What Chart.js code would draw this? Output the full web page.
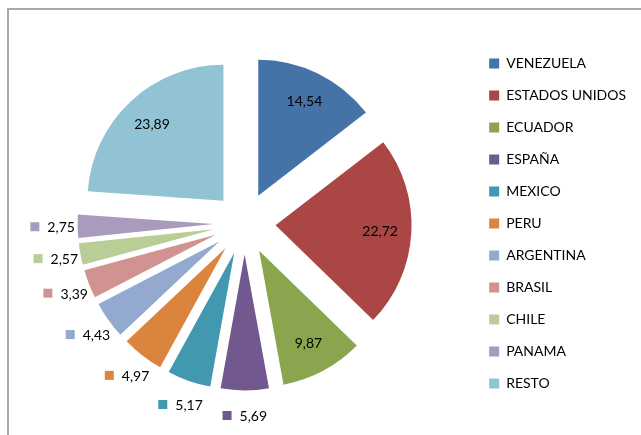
<!DOCTYPE html>
<html>
<head>
<meta charset="utf-8">
<script src="https://cdn.jsdelivr.net/npm/chart.js@4"></script>
<style>
  html, body { margin: 0; padding: 0; background: #fff; overflow: hidden; }
  #wrap { position: relative; width: 641px; height: 435px; }
  #frame { position: absolute; left: 7px; top: 8px; width: 700px; height: 500px;
           border-left: 2px solid #a8a8a8; border-top: 2px solid #a8a8a8; }
  canvas { position: absolute; left: 0; top: 0; }
</style>
</head>
<body>
<div id="wrap">
  <div id="frame"></div>
  <canvas id="myChart" width="641" height="435"></canvas>
</div>
<script>
const countries = ["VENEZUELA", "ESTADOS UNIDOS", "ECUADOR", "ESPAÑA", "MEXICO", "PERU",
                   "ARGENTINA", "BRASIL", "CHILE", "PANAMA", "RESTO"];
const shares = [14.54, 22.72, 9.87, 5.69, 5.17, 4.97, 4.43, 3.39, 2.57, 2.75, 23.89];
const sliceColors = ["#4572a7", "#aa4643", "#89a54e", "#71588f", "#4198af", "#db843d",
                     "#93a9cf", "#d19392", "#b9cd96", "#a99bbd", "#92c3d5"];

const FONT = "Lato, 'Open Sans', sans-serif";
const EXPLODE = 31; // px every slice is pulled out, like excel's "explosion"

// chart.js' own offset also shrinks/thins the wedges, so just shift each arc
const explode = {
    id: "explode",
    beforeDatasetDraw(chart, args) {
        const ctx = chart.ctx;
        args.meta.data.forEach(arc => {
            const mid = (arc.startAngle + arc.endAngle) / 2;
            ctx.save();
            ctx.translate(Math.cos(mid) * EXPLODE, Math.sin(mid) * EXPLODE);
            arc.draw(ctx);
            ctx.restore();
        });
        return false;
    }
};

// value labels: big slices inside, small ones outside with a colour square
const sliceLabels = {
    id: "sliceLabels",
    afterDatasetsDraw(chart) {
        const ctx = chart.ctx;
        const meta = chart.getDatasetMeta(0);
        ctx.save();
        ctx.font = "14px " + FONT;
        ctx.textBaseline = "middle";
        meta.data.forEach((arc, i) => {
            const p = arc.getProps(["x", "y", "startAngle", "endAngle", "outerRadius"], true);
            const mid = (p.startAngle + p.endAngle) / 2;
            const txt = shares[i].toFixed(2).replace(".", ",");
            if (shares[i] > 9) {
                const d = EXPLODE + p.outerRadius * 0.77;
                ctx.fillStyle = "#000";
                ctx.textAlign = "center";
                ctx.fillText(txt, p.x + Math.cos(mid) * d, p.y + Math.sin(mid) * d);
            } else {
                const d = EXPLODE + p.outerRadius + 25;
                const cx = p.x + Math.cos(mid) * d;
                const cy = p.y + Math.sin(mid) * d;
                const tw = ctx.measureText(txt).width;
                const left = cx - (17 + tw) / 2;
                ctx.fillStyle = sliceColors[i];
                ctx.fillRect(left, cy - 4.5, 9, 9);
                ctx.fillStyle = "#000";
                ctx.textAlign = "left";
                ctx.fillText(txt, left + 17, cy + 1);
            }
        });
        ctx.restore();
    }
};

new Chart("myChart", {
    type: "pie",
    data: {
        labels: countries,
        datasets: [{
            data: shares,
            backgroundColor: sliceColors,
            borderWidth: 0,
            radius: 136
        }]
    },
    options: {
        responsive: false,
        animation: false,
        events: [],
        layout: { padding: { left: 18, right: 5, top: 12, bottom: 0 } },
        plugins: {
            tooltip: { enabled: false },
            legend: {
                position: "right",
                labels: {
                    boxWidth: 10,
                    boxHeight: 10,
                    padding: 18,
                    color: "#000",
                    font: { family: FONT, size: 14 }
                }
            }
        }
    },
    plugins: [explode, sliceLabels]
});
</script>
</body>
</html>
